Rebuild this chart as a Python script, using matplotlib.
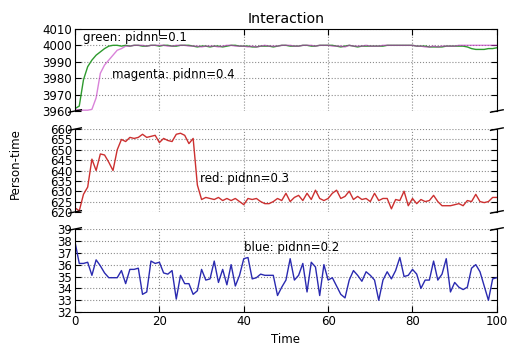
import matplotlib
matplotlib.use('Agg')
import matplotlib.pyplot as plt
import numpy as np

# values, one per time step 0..100
time = list(range(101))

green = [3961.5, 3963, 3979, 3987, 3991, 3994, 3996, 3998, 3999.5, 4000,
         4000, 3999.5, 4000, 3999.5, 4000, 4000, 3999.5, 3999.5, 4000, 4000,
         3999.5, 4000, 4000, 3999.5, 3999.5, 4000, 4000, 4000, 3999.5, 3999,
         3999.5, 3999.5, 3999, 3999.5, 3999.5, 3999, 3999.5, 4000, 4000, 3999.5,
         3999.5, 3999.5, 3999, 3999, 3999.5, 3999.5, 3999.5, 3999, 3999.5, 4000,
         4000, 3999.5, 3999.5, 3999.5, 4000, 4000, 3999.5, 3999.5, 4000, 4000,
         4000, 4000, 3999.5, 3999, 3999.5, 4000, 3999.5, 3999, 3999.5, 3999.5,
         3999.5, 3999.5, 3999.5, 3999.5, 4000, 4000, 4000, 4000, 4000, 4000,
         4000, 3999.5, 3999.5, 3999.5, 3999, 3999, 3999, 3999, 3999.5, 3999.5,
         3999.5, 3999.5, 3999.5, 3999, 3998, 3997.5, 3997.5, 3997.5, 3998, 3998,
         3998.5]

magenta = [3961, 3960.5, 3960.5, 3960.5, 3961, 3968, 3983, 3988, 3991, 3994,
           3997, 3998, 3999.5, 3999.5, 4000, 4000, 4000, 3999.5, 4000, 4000,
           4000, 4000, 3999.5, 3999.5, 4000, 4000, 4000, 3999.5, 3999.5, 3999.5,
           3999, 3999.5, 3999.5, 3999.5, 3999, 3999.5, 4000, 4000, 3999.5, 3999.5,
           3999.5, 3999, 3999.5, 3999, 3999.5, 4000, 3999.5, 3999.5, 3999.5, 4000,
           4000, 4000, 3999.5, 3999.5, 4000, 4000, 4000, 3999.5, 4000, 4000,
           4000, 3999.5, 3999.5, 3999.5, 3999, 4000, 3999.5, 3999.5, 3999.5, 4000,
           3999.5, 3999.5, 3999.5, 4000, 4000, 4000, 4000, 4000, 4000, 4000,
           4000, 3999.5, 3999.5, 3999, 3999, 3999.5, 3999, 3999.5, 3999.5, 3999.5,
           3999.5, 4000, 4000, 4000, 4000, 4000, 4000, 4000, 4000, 4000,
           4000]

red = [622, 620.5, 628.5, 632, 645.5, 640, 648, 647.5, 644, 640,
       650, 655, 654, 656, 655.5, 656, 657.5, 656, 656.5, 657,
       653.5, 655.5, 654.5, 654, 657.5, 658, 657, 653, 655.5, 633,
       626, 627, 626.5, 626, 627, 625.5, 626.5, 625.5, 626.5, 625,
       623.5, 626.5, 626, 626.5, 625, 624, 624, 625, 626.5, 625.5,
       629, 625, 627, 628, 625.5, 629, 626, 630.5, 626.5, 625.5,
       626.5, 629, 630.5, 626.5, 627.5, 630, 626, 627.5, 626, 626.5,
       625, 629, 625.5, 626.5, 626.5, 621.5, 626, 625.5, 630, 623,
       626.5, 624, 626, 625, 625.5, 628, 625, 623, 623, 623,
       623.5, 624, 623, 625.5, 625, 628.5, 625, 624.5, 625, 627,
       627]

blue = [37.9, 36.1, 36.1, 36.2, 35.1, 36.4, 35.9, 35.3, 34.9, 34.9,
        34.9, 35.5, 34.4, 35.6, 35.6, 35.7, 33.5, 33.7, 36.3, 36.1,
        36.2, 35.3, 35.2, 35.5, 33.1, 35.1, 34.4, 34.4, 33.5, 33.8,
        35.6, 34.7, 34.8, 36.3, 34.5, 35.6, 34.3, 36.0, 34.2, 35.1,
        36.5, 36.6, 34.8, 34.9, 35.2, 35.1, 35.1, 35.1, 33.4, 34.1,
        34.7, 36.5, 34.7, 35.1, 36.1, 33.7, 36.2, 35.8, 33.4, 36.0,
        34.7, 34.9, 34.2, 33.5, 33.2, 34.7, 35.5, 35.1, 34.6, 35.4,
        35.1, 34.7, 33.0, 34.7, 35.4, 34.8, 35.5, 36.6, 35.0, 35.1,
        35.6, 35.2, 34.0, 34.7, 34.7, 36.3, 34.7, 35.2, 36.5, 33.7,
        34.5, 34.1, 33.9, 34.1, 35.7, 36.0, 35.4, 34.2, 33.0, 34.8,
        34.9]

top_ticks = [3960, 3970, 3980, 3990, 4000, 4010]
mid_ticks = [620, 625, 630, 635, 640, 645, 650, 655, 660]
bot_ticks = [32, 33, 34, 35, 36, 37, 38, 39]
x_ticks = [0, 20, 40, 60, 80, 100]

plt.rcParams['font.size'] = 8.5
plt.rcParams['xtick.direction'] = 'in'
plt.rcParams['ytick.direction'] = 'in'
plt.rcParams['xtick.major.size'] = 4
plt.rcParams['ytick.major.size'] = 4

fig = plt.figure(figsize=(5.07, 3.48), dpi=100)
left, width = 0.148, 0.832
ax1 = fig.add_axes([left, 0.681, width, 0.236])
ax2 = fig.add_axes([left, 0.391, width, 0.238])
ax3 = fig.add_axes([left, 0.103, width, 0.239])

ax1.plot(time, green, color='#2e9a2e', lw=1)
ax1.plot(time, magenta, color='#c030c0', lw=1, alpha=0.6)
ax2.plot(time, red, color='#cc3030', lw=1)
ax3.plot(time, blue, color='#2a2ab0', lw=1)

ax1.set_ylim(3960, 4010)
ax1.set_yticks(top_ticks)
ax2.set_ylim(620, 660)
ax2.set_yticks(mid_ticks)
ax3.set_ylim(32, 39)
ax3.set_yticks(bot_ticks)

for ax in [ax1, ax2, ax3]:
    ax.set_xlim(0, 100)
    ax.set_xticks(x_ticks)
    ax.grid(True, color='0.55', linestyle=':', lw=0.8)
    ax.tick_params(right=True, pad=2)

# broken axis look: hide the inner spines
ax1.spines['bottom'].set_visible(False)
ax2.spines['top'].set_visible(False)
ax2.spines['bottom'].set_visible(False)
ax3.spines['top'].set_visible(False)
ax1.tick_params(top=True, bottom=False, labelbottom=False)
ax2.tick_params(top=False, bottom=False, labelbottom=False)
ax3.tick_params(top=False, bottom=True)

d = 0.015
kw = dict(color='k', clip_on=False, lw=1)
ax1.plot((-d, d), (-d, d), transform=ax1.transAxes, **kw)
ax1.plot((1 - d, 1 + d), (-d, d), transform=ax1.transAxes, **kw)
for ax in [ax2]:
    ax.plot((-d, d), (1 - d, 1 + d), transform=ax.transAxes, **kw)
    ax.plot((1 - d, 1 + d), (1 - d, 1 + d), transform=ax.transAxes, **kw)
    ax.plot((-d, d), (-d, d), transform=ax.transAxes, **kw)
    ax.plot((1 - d, 1 + d), (-d, d), transform=ax.transAxes, **kw)
ax3.plot((-d, d), (1 - d, 1 + d), transform=ax3.transAxes, **kw)
ax3.plot((1 - d, 1 + d), (1 - d, 1 + d), transform=ax3.transAxes, **kw)

ax1.text(2, 4004.5, 'green: pidnn=0.1', va='center')
ax1.text(8.8, 3982, 'magenta: pidnn=0.4', va='center')
ax2.text(29.6, 636, 'red: pidnn=0.3', va='center')
ax3.text(40, 37.4, 'blue: pidnn=0.2', va='center')

ax1.set_title('Interaction', fontsize=10.2, pad=4)
ax3.set_xlabel('Time', labelpad=4)
fig.text(0.03, 0.53, 'Person-time', rotation=90, va='center', ha='center')

plt.savefig('out.png', dpi=100)
